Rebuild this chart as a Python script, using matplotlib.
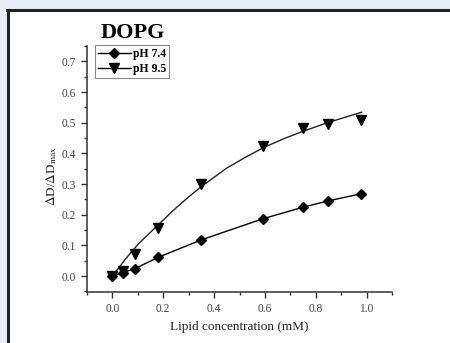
import matplotlib
matplotlib.use("Agg")
import matplotlib.pyplot as plt
from matplotlib.patches import Rectangle
from matplotlib.lines import Line2D
from matplotlib.ticker import MultipleLocator, FormatStrFormatter

# data
lipid_conc = [0.0, 0.04, 0.088, 0.18, 0.35, 0.593, 0.748, 0.849, 0.977]
ph74_vals = [0.0, 0.011, 0.024, 0.061, 0.118, 0.187, 0.224, 0.245, 0.268]
ph95_vals = [0.0, 0.017, 0.072, 0.156, 0.300, 0.425, 0.484, 0.497, 0.508]
# fitted curve for pH 9.5
fit_x = [0.0, 0.05, 0.1, 0.18, 0.25, 0.3, 0.35, 0.45, 0.525, 0.6, 0.675, 0.75, 0.85, 0.98]
fit_y = [0.0, 0.054, 0.103, 0.167, 0.222, 0.258, 0.292, 0.352, 0.388, 0.421, 0.448, 0.472, 0.501, 0.534]

plt.rcParams['font.family'] = ['Liberation Serif', 'DejaVu Serif']
plt.rcParams['mathtext.fontset'] = 'stix'

fig = plt.figure(figsize=(4.5, 3.43), dpi=100)
fig.patch.set_facecolor('#e8ecf6')
W, H = 450.0, 343.0
# white panel with a dark border on top and left
fig.patches.append(Rectangle((7 / W, 0), 1 - 7 / W, 1 - 9 / H, transform=fig.transFigure,
                             facecolor='white', edgecolor='none', zorder=-2))
fig.lines.append(Line2D([8 / W, 8 / W], [0, 1 - 9.5 / H], transform=fig.transFigure,
                        color='#222222', lw=2.2, zorder=-1))
fig.lines.append(Line2D([7 / W, 1], [1 - 9.5 / H, 1 - 9.5 / H], transform=fig.transFigure,
                        color='#222222', lw=2.2, zorder=-1))

ax = fig.add_axes([87 / W, 1 - 292 / H, 305 / W, 246 / H])
ax.set_zorder(2)
ax.set_facecolor('none')

ax.plot(lipid_conc, ph74_vals, color='black', lw=1.0, marker='D', ms=5.5, label='pH 7.4')
ax.plot(lipid_conc, ph95_vals, color='black', lw=0, marker='v', ms=6.5, zorder=3)
ax.plot(fit_x, fit_y, color='#222222', lw=1.0)
# legend handle for pH 9.5 (line + marker)
ax.plot([], [], color='black', lw=1.0, marker='v', ms=6.5, label='pH 9.5')

ax.set_xlim(-0.1, 1.1)
ax.set_ylim(-0.052, 0.75)
ax.xaxis.set_major_locator(MultipleLocator(0.2))
ax.xaxis.set_minor_locator(MultipleLocator(0.1))
ax.yaxis.set_major_locator(MultipleLocator(0.1))
ax.yaxis.set_minor_locator(MultipleLocator(0.05))
ax.xaxis.set_major_formatter(FormatStrFormatter('%.1f'))
ax.yaxis.set_major_formatter(FormatStrFormatter('%.1f'))

for s in ['top', 'right']:
    ax.spines[s].set_visible(False)
for s in ['left', 'bottom']:
    ax.spines[s].set_linewidth(1.1)
    ax.spines[s].set_color('#333333')
ax.tick_params(which='major', direction='out', length=4, width=1, labelsize=8.3,
               colors='#333333', labelcolor='#444444', pad=4)
ax.tick_params(which='minor', direction='out', length=2.5, width=1, colors='#333333')

ax.set_xlabel('Lipid concentration (mM)', fontsize=9.5, color='#222222', labelpad=4)
ax.set_ylabel(r'$\Delta$D/$\Delta$D$_{\mathrm{max}}$', fontsize=9.5, color='#222222',
              va='center')
ax.yaxis.set_label_coords(-0.115, 0.47)

fig.text(133 / W, 1 - 33 / H, 'DOPG', fontsize=16, fontweight='bold', ha='center', va='center')

leg = ax.legend(loc='upper left', bbox_to_anchor=(0.025, 1.005), fancybox=False,
                edgecolor='#888888', framealpha=1, borderpad=0.25, labelspacing=0.3,
                handlelength=2.8, handletextpad=0.2, borderaxespad=0,
                prop={'weight': 'bold', 'size': 8.5})
leg.get_frame().set_linewidth(0.8)

fig.savefig('out.png', dpi=100, facecolor=fig.get_facecolor())
